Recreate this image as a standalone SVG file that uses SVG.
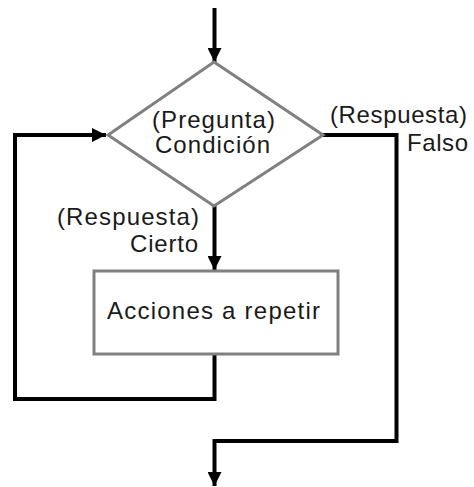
<svg xmlns="http://www.w3.org/2000/svg" width="474" height="487" viewBox="0 0 474 487">
<style>
.ln{fill:none;stroke:#000;stroke-width:4;stroke-linejoin:miter}
.shape{fill:#fff;stroke:#808080;stroke-width:3}
text{font-family:"Liberation Sans",Arial,sans-serif;font-size:24px;fill:#1a1a1a}
</style>
<defs>
<marker id="ah" viewBox="0 0 10 10" refX="10" refY="5" markerWidth="14" markerHeight="14" markerUnits="userSpaceOnUse" orient="auto">
<path d="M0,0 L10,5 L0,10 z" fill="#000"/>
</marker>
</defs>
<g id="connectors">
<path class="ln" d="M214.5,8 V62" marker-end="url(#ah)"/>
<path class="ln" d="M214.5,206 V270" marker-end="url(#ah)"/>
<path class="ln" d="M214.5,355 V399 H15 V135 H106" marker-end="url(#ah)"/>
<path class="ln" d="M323,135 H396.5 V441 H214.5 V486" marker-end="url(#ah)"/>
</g>
<g id="decision">
<polygon class="shape" points="214,62 323,135 214,206 108,135"/>
<text x="152" y="128" textLength="123">(Pregunta)</text>
<text x="155" y="153" textLength="115">Condición</text>
</g>
<g id="action">
<rect class="shape" x="94" y="271" width="244" height="83"/>
<text x="107" y="319" textLength="213">Acciones a repetir</text>
</g>
<g id="label-false">
<text x="330" y="123" textLength="137">(Respuesta)</text>
<text x="407" y="151" textLength="61">Falso</text>
</g>
<g id="label-true">
<text x="57" y="225" textLength="142">(Respuesta)</text>
<text x="130" y="252" textLength="68">Cierto</text>
</g>
</svg>
